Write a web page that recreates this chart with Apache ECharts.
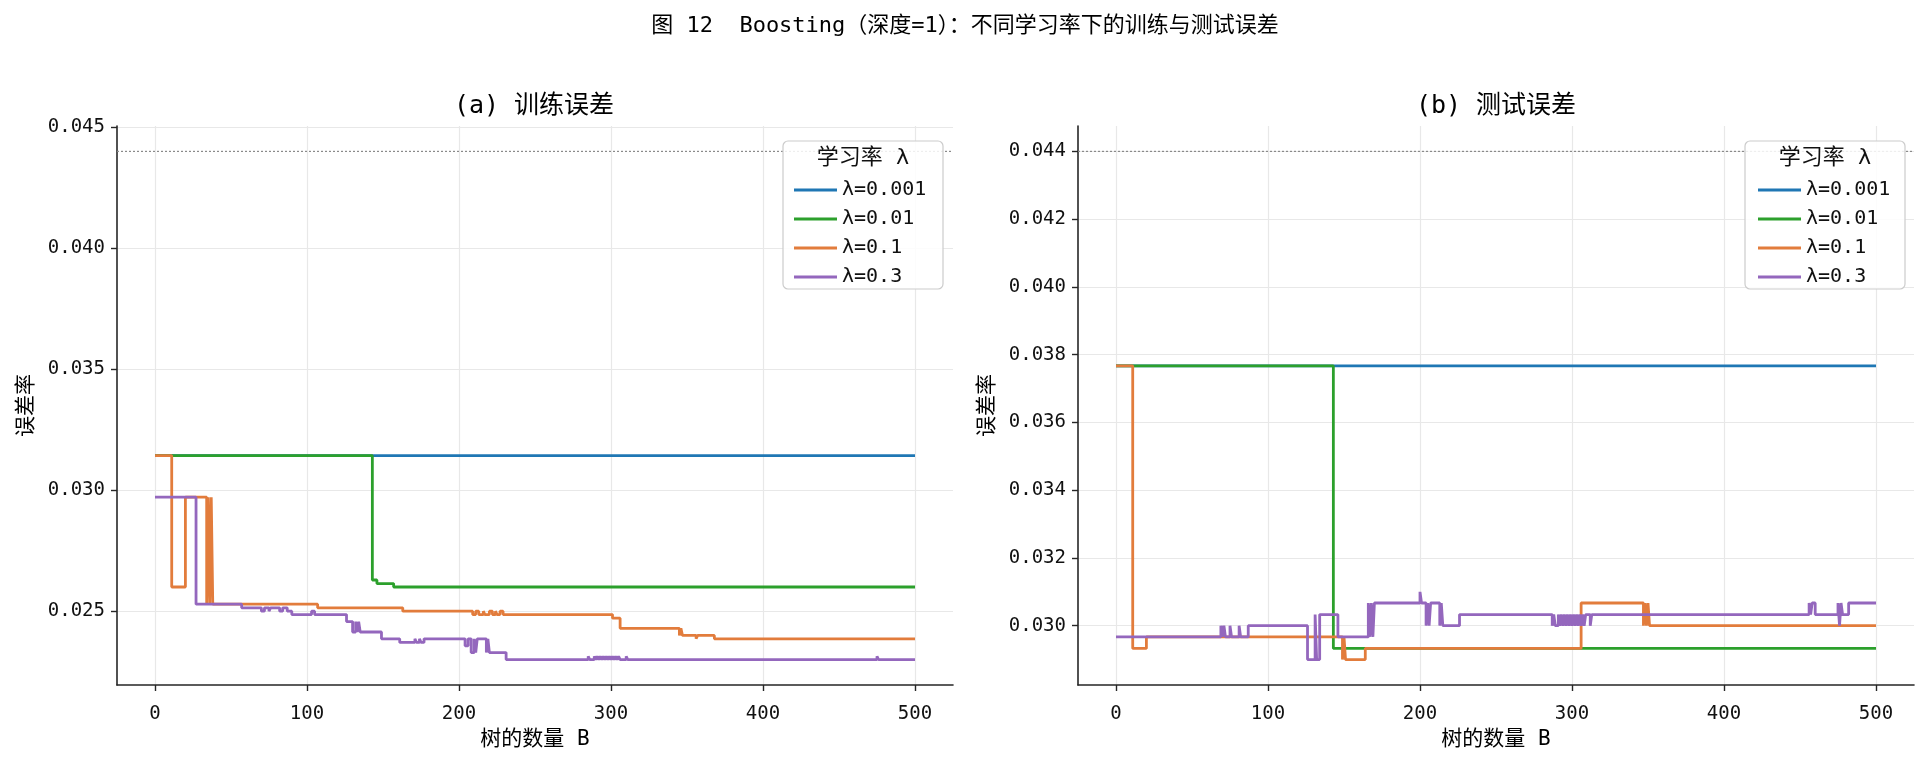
<!DOCTYPE html>
<html>
<head>
<meta charset="utf-8">
<script src="https://cdn.jsdelivr.net/npm/echarts@6/dist/echarts.min.js"></script>
<style>
html,body{margin:0;padding:0;background:#fff;}
#chart{width:1930px;height:762px;}
</style>
</head>
<body>
<div id="chart"></div>
<script>
// ---------- data ----------
const suptitle = '图 12  Boosting（深度=1）：不同学习率下的训练与测试误差';
const panelTitles = ['(a) 训练误差', '(b) 测试误差'];
const xAxisTitle = '树的数量 B';
const yAxisTitle = '误差率';
const legendTitle = '学习率 λ';
const seriesNames = ['λ=0.001', 'λ=0.01', 'λ=0.1', 'λ=0.3'];
const xTicks = [0, 100, 200, 300, 400, 500];
const yTicksTrain = [0.025, 0.030, 0.035, 0.040, 0.045];
const yTicksTest = [0.030, 0.032, 0.034, 0.036, 0.038, 0.040, 0.042, 0.044];
const refLevel = 0.044;
const refSpan = [-25, 525];

// step breakpoints: [B, error] where a new level begins
const trainL0001 = [[0,0.03143],[500,0.03143]];
const trainL001 = [[0,0.03143],[143,0.02629],[146,0.02614],[157,0.02600],[500,0.02600]];
const trainL01 = [[0,0.03143],[11,0.02600],[20,0.02971],[34,0.02529],[35,0.02971],[36,0.02529],[37,0.02971],[38,0.02529],
  [107,0.02514],[163,0.02500],[209,0.02486],[211,0.02500],[213,0.02486],[216,0.02500],[217,0.02486],[220,0.02500],
  [222,0.02486],[224,0.02500],[225,0.02486],[227,0.02500],[229,0.02486],[301,0.02471],[306,0.02429],
  [345,0.02400],[346,0.02429],[347,0.02400],[356,0.02386],[357,0.02400],[368,0.02386],[500,0.02386]];
const trainL03 = [[0,0.02971],[27,0.02529],[57,0.02514],[70,0.02500],[72,0.02514],[75,0.02500],[76,0.02514],
  [82,0.02500],[84,0.02514],[87,0.02500],[90,0.02486],[103,0.02500],[105,0.02486],[126,0.02457],[130,0.02414],
  [132,0.02457],[133,0.02414],[134,0.02457],[135,0.02414],[149,0.02386],[161,0.02371],[171,0.02386],[172,0.02371],
  [174,0.02386],[175,0.02371],[177,0.02386],[204,0.02357],[206,0.02386],[208,0.02329],[210,0.02386],[211,0.02329],
  [212,0.02386],[218,0.02329],[219,0.02386],[220,0.02329],[231,0.02300],[285,0.02314],[286,0.02300],[289,0.02314],
  [290,0.02300],[291,0.02314],[292,0.02300],[293,0.02314],[294,0.02300],[295,0.02314],[296,0.02300],[297,0.02314],
  [298,0.02300],[299,0.02314],[300,0.02300],[301,0.02314],[302,0.02300],[303,0.02314],[304,0.02300],[305,0.02314],
  [306,0.02300],[310,0.02314],[311,0.02300],[475,0.02314],[476,0.02300],[500,0.02300]];

const testL0001 = [[0,0.03767],[500,0.03767]];
const testL001 = [[0,0.03767],[143,0.02933],[500,0.02933]];
const testL01 = [[0,0.03767],[11,0.02933],[20,0.02967],[149,0.02900],[150,0.02967],[151,0.02900],[164,0.02933],
  [306,0.03067],[347,0.03000],[348,0.03067],[349,0.03000],[350,0.03067],[351,0.03000],[500,0.03000]];
const testL03 = [[0,0.02967],[69,0.03000],[70,0.02967],[71,0.03000],[72,0.02967],[75,0.03000],[76,0.02967],
  [81,0.03000],[82,0.02967],[87,0.03000],[126,0.02900],[131,0.03033],[132,0.02900],[134,0.03033],[146,0.02967],
  [166,0.03067],[167,0.02967],[168,0.03067],[169,0.02967],[170,0.03067],[200,0.03100],[201,0.03067],
  [204,0.03000],[205,0.03067],[206,0.03000],[207,0.03067],[213,0.03000],[214,0.03067],[215,0.03000],[226,0.03033],
  [287,0.03000],[288,0.03033],[289,0.03000],[291,0.03033],[292,0.03000],[293,0.03033],[294,0.03000],[295,0.03033],
  [296,0.03000],[297,0.03033],[298,0.03000],[299,0.03033],[300,0.03000],[301,0.03033],[302,0.03000],[303,0.03033],
  [304,0.03000],[305,0.03033],[306,0.03000],[307,0.03033],[308,0.03000],[309,0.03033],[312,0.03000],[313,0.03033],
  [456,0.03067],[457,0.03033],[458,0.03067],[460,0.03033],[475,0.03067],[476,0.03000],[477,0.03067],[478,0.03033],
  [482,0.03067],[500,0.03067]];

const trainSeries = [trainL0001, trainL001, trainL01, trainL03];
const testSeries = [testL0001, testL001, testL01, testL03];
const colors = ['#1f77b4', '#2ca02c', '#e27c3c', '#9467bd'];

// ---------- chart ----------
const FONT = '"DejaVu Sans Mono", "Noto Sans CJK SC", sans-serif';
const chart = echarts.init(document.getElementById('chart'), null, {renderer: 'canvas'});

function xAxisCfg(gi) {
  return {
    type: 'value', gridIndex: gi, min: -25, max: 525,
    name: xAxisTitle, nameLocation: 'middle', nameGap: 44,
    nameTextStyle: {fontSize: 21, color: '#000', fontFamily: FONT},
    axisLine: {show: true, onZero: false, lineStyle: {color: '#262626', width: 1.6}},
    axisTick: {show: true, length: 6, lineStyle: {color: '#262626', width: 1.4}, customValues: xTicks},
    axisLabel: {fontSize: 19, color: '#111', fontFamily: FONT, margin: 20, customValues: xTicks,
      formatter: v => String(Math.round(v))},
    splitLine: {show: true, lineStyle: {color: '#e8e8e8', width: 1.2}}
  };
}
function yAxisCfg(gi, mn, mx, ticks) {
  return {
    type: 'value', gridIndex: gi, min: mn, max: mx,
    name: yAxisTitle, nameLocation: 'middle', nameGap: 80, nameRotate: 90,
    nameTextStyle: {fontSize: 21, color: '#000', fontFamily: FONT},
    axisLine: {show: true, onZero: false, lineStyle: {color: '#262626', width: 1.6}},
    axisTick: {show: true, length: 6, lineStyle: {color: '#262626', width: 1.4}, customValues: ticks},
    axisLabel: {fontSize: 19, color: '#111', fontFamily: FONT, margin: 12, customValues: ticks,
      formatter: v => v.toFixed(3)},
    splitLine: {show: true, lineStyle: {color: '#e8e8e8', width: 1.2}}
  };
}

const series = [];
[trainSeries, testSeries].forEach((group, gi) => {
  series.push({
    type: 'line', xAxisIndex: gi, yAxisIndex: gi, silent: true,
    data: [[refSpan[0], refLevel], [refSpan[1], refLevel]],
    symbol: 'none', showSymbol: false,
    lineStyle: {type: [2, 2], color: '#8a8a8a', width: 1.2}, z: 2
  });
  group.forEach((data, i) => {
    series.push({
      name: seriesNames[i], type: 'line', xAxisIndex: gi, yAxisIndex: gi,
      data: data, step: 'end', symbol: 'none', showSymbol: false,
      lineStyle: {color: colors[i], width: 2.8},
      itemStyle: {color: colors[i]},
      z: 3 + i
    });
  });
});

function legendCfg(left) {
  return {
    data: seriesNames, orient: 'vertical', left: left, top: 174,
    icon: 'rect', itemWidth: 43, itemHeight: 3, itemGap: 7, z: 20,
    textStyle: {fontSize: 20, color: '#111', fontFamily: FONT, lineHeight: 22},
    selectedMode: false
  };
}
function legendBox(x) {
  return [
    {type: 'rect', z: 10, shape: {x: x, y: 141, width: 160, height: 148, r: 5},
     style: {fill: 'rgba(255,255,255,0.85)', stroke: '#cccccc', lineWidth: 1.2}},
    {type: 'text', z: 11, x: x + 80, y: 158,
     style: {text: legendTitle, textAlign: 'center', textVerticalAlign: 'middle', fontSize: 22,
       fontFamily: FONT, fill: '#111'}}
  ];
}

const option = {
  animation: false,
  backgroundColor: '#ffffff',
  grid: [
    {left: 117, right: 977, top: 126, bottom: 77, containLabel: false},
    {left: 1078, right: 16, top: 126, bottom: 77, containLabel: false}
  ],
  xAxis: [xAxisCfg(0), xAxisCfg(1)],
  yAxis: [yAxisCfg(0, 0.02195, 0.04505, yTicksTrain), yAxisCfg(1, 0.02825, 0.04475, yTicksTest)],
  legend: [legendCfg(789), legendCfg(1753)],
  graphic: [
    {type: 'text', x: 965, y: 26, style: {text: suptitle, textAlign: 'center', textVerticalAlign: 'middle',
      fontSize: 22, fontFamily: FONT, fill: '#000'}},
    {type: 'text', x: 534, y: 106, style: {text: panelTitles[0], textAlign: 'center', textVerticalAlign: 'middle',
      fontSize: 25, fontFamily: FONT, fill: '#000'}},
    {type: 'text', x: 1496, y: 106, style: {text: panelTitles[1], textAlign: 'center', textVerticalAlign: 'middle',
      fontSize: 25, fontFamily: FONT, fill: '#000'}},
    ...legendBox(783),
    ...legendBox(1745)
  ],
  series: series
};
chart.setOption(option);
</script>
</body>
</html>
